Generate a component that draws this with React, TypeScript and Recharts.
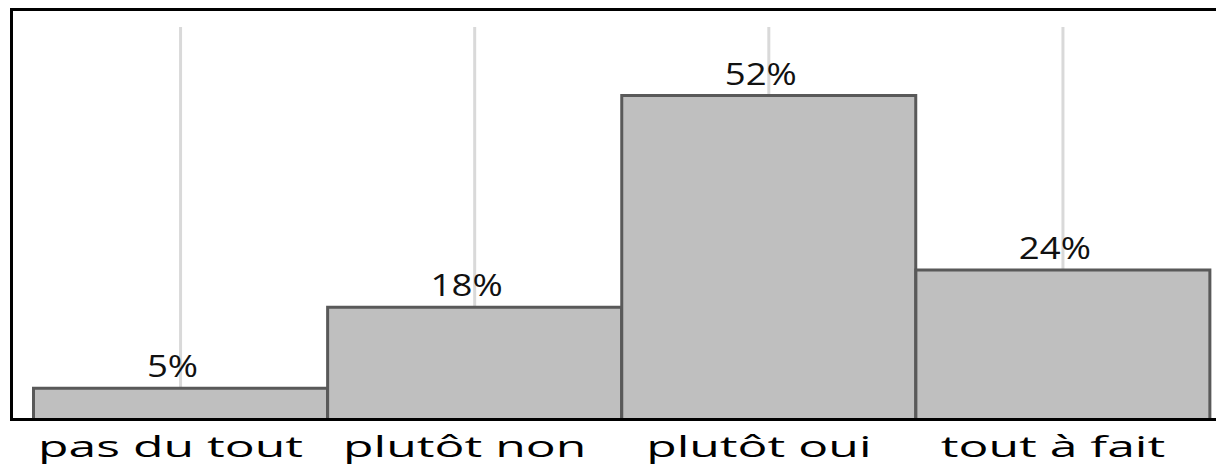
import { BarChart, Bar, XAxis, YAxis, ReferenceLine, LabelList } from 'recharts';

const categories = ['pas du tout', 'plutôt non', 'plutôt oui', 'tout à fait'];
const shares = [5, 18, 52, 24];
const shareLabels = ['5%', '18%', '52%', '24%'];
const yMax = 63;

const data = categories.map((category, i) => ({ category, share: shares[i], label: shareLabels[i] }));

const font = '"Open Sans", "DejaVu Sans", sans-serif';

// the reference text is stretched sideways and sits a little left of centre
function CategoryTick(props: any) {
  const { x, y, payload } = props;
  return (
    <text
      transform={`translate(${Number(x) - 10} ${y}) scale(1.72 1)`}
      x={0}
      y={37.5}
      textAnchor="middle"
      fontFamily={font}
      fontSize={29}
      fill="#000"
    >
      {payload.value}
    </text>
  );
}

function ShareLabel(props: any) {
  const { x, y, width, index } = props;
  const cx = Number(x) + Number(width) / 2 - 8;
  return (
    <text
      transform={`translate(${cx} ${Number(y) - 11}) scale(1.18 1)`}
      x={0}
      y={0}
      textAnchor="middle"
      fontFamily={font}
      fontSize={31}
      fill="#111"
    >
      {shareLabels[index]}
    </text>
  );
}

const frameLine = { stroke: '#000', strokeWidth: 3, strokeLinecap: 'square' as const };

export default function App() {
  return (
    <div style={{ position: 'absolute', left: 0, top: 0, width: 1216, height: 474, background: '#fff' }}>
      <BarChart
        width={1216}
        height={474}
        data={data}
        margin={{ top: 8.5, right: 0, bottom: 0, left: 10.5 }}
        barCategoryGap={0}
      >
        <XAxis
          dataKey="category"
          height={54.5}
          padding={{ left: 22, right: 6 }}
          tickLine={false}
          tickSize={0}
          tickMargin={0}
          axisLine={frameLine}
          tick={<CategoryTick />}
          interval={0}
        />
        <XAxis
          xAxisId="top"
          dataKey="category"
          orientation="top"
          height={1}
          tick={false}
          tickLine={false}
          axisLine={frameLine}
        />
        <YAxis
          width={1}
          domain={[0, yMax]}
          padding={{ top: 17.5, bottom: 0 }}
          tick={false}
          tickLine={false}
          axisLine={frameLine}
        />
        {categories.map((c) => (
          <ReferenceLine
            key={c}
            segment={[{ x: c, y: 0 }, { x: c, y: yMax }]}
            stroke="#d9d9d9"
            strokeWidth={3}
            zIndex={50}
          />
        ))}
        <Bar dataKey="share" fill="#bfbfbf" stroke="#595959" strokeWidth={3} isAnimationActive={false}>
          <LabelList dataKey="label" content={<ShareLabel />} />
        </Bar>
      </BarChart>
    </div>
  );
}
